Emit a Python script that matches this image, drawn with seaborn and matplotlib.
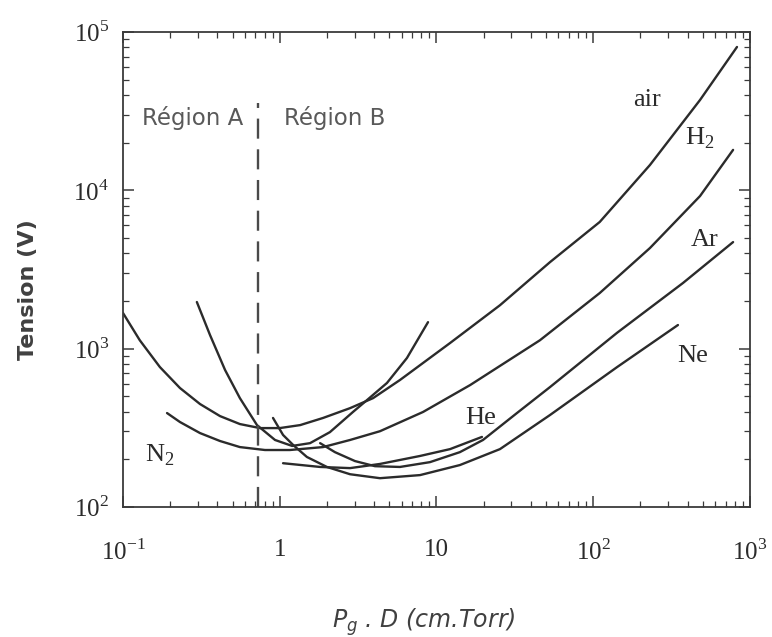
import matplotlib
matplotlib.use("Agg")
import matplotlib.pyplot as plt
import matplotlib.ticker as mticker
import seaborn as sns
import pandas as pd

# Paschen curves: pd in cm.Torr, breakdown voltage in V
air_pd = [0.1, 0.128, 0.172, 0.231, 0.310, 0.416, 0.557, 0.748, 1.00, 1.35, 1.89,
          2.81, 3.94, 5.85, 12.2, 25.4, 53.0, 110, 230, 480, 826]
air_v = [1680, 1130, 765, 564, 447, 375, 334, 315, 315, 329, 365,
         421, 487, 634, 1085, 1880, 3520, 6310, 14450, 37200, 80400]

h2_pd = [0.191, 0.231, 0.310, 0.416, 0.557, 0.805, 1.16, 1.89, 2.81, 4.36, 8.20,
         16.4, 45.7, 110, 230, 480, 780]
h2_v = [392, 344, 293, 261, 239, 229, 229, 239, 265, 301, 398,
        589, 1130, 2245, 4320, 9200, 18000]

n2_pd = [0.296, 0.359, 0.448, 0.557, 0.716, 0.933, 1.20, 1.56, 2.09, 2.93, 3.60,
         4.83, 6.48, 8.83]
n2_v = [1970, 1220, 733, 487, 329, 265, 243, 253, 297, 398, 473,
        607, 873, 1470]

ne_pd = [0.906, 1.05, 1.22, 1.49, 2.00, 2.81, 4.36, 7.85, 14.1, 25.4, 53.0, 142, 347]
ne_v = [365, 285, 246, 207, 179, 161, 152, 159, 184, 232, 381, 765, 1410]

ar_pd = [1.81, 2.25, 3.02, 4.05, 5.85, 9.09, 14.1, 19.8, 32.6, 53.0, 142, 374, 780]
ar_v = [253, 222, 195, 181, 179, 192, 222, 265, 392, 572, 1260, 2600, 4710]

he_pd = [1.05, 1.81, 2.81, 4.36, 7.85, 12.2, 19.5]
he_v = [189, 179, 176, 187, 210, 232, 277]

# curve labels
label_text = ["air", "H$_2$", "Ar", "Ne", "He", "N$_2$"]
label_pd = [220, 480, 516, 433, 19.0, 0.172]
label_v = [37200, 21400, 4850, 897, 365, 213]

boundary_pd = 0.726
boundary_v = [100, 35600]

xtick_vals = [0.1, 1, 10, 100, 1000]
xtick_labels = ["$10^{-1}$", "1", "10", "$10^{2}$", "$10^{3}$"]
ytick_vals = [100, 1000, 10000, 100000]
ytick_labels = ["$10^{2}$", "$10^{3}$", "$10^{4}$", "$10^{5}$"]

curves = {"air": (air_pd, air_v), "h2": (h2_pd, h2_v), "n2": (n2_pd, n2_v),
          "ne": (ne_pd, ne_v), "ar": (ar_pd, ar_v), "he": (he_pd, he_v)}
df = pd.concat([pd.DataFrame({"gas": g, "pd": x, "v": y}) for g, (x, y) in curves.items()],
               ignore_index=True)

sns.set_style("ticks")
plt.rcParams["font.family"] = ["DejaVu Sans"]
plt.rcParams["mathtext.fontset"] = "custom"
plt.rcParams["mathtext.rm"] = "Liberation Serif"
plt.rcParams["mathtext.it"] = "DejaVu Sans:italic"

ink = "#2b2b2b"
fig = plt.figure(figsize=(7.72, 6.37), dpi=100)
ax = fig.add_axes([0.1593, 0.2041, 0.8122, 0.7457])
ax.set_xscale("log")
ax.set_yscale("log")

sns.lineplot(data=df, x="pd", y="v", units="gas", estimator=None, sort=False,
             color=ink, linewidth=1.7, ax=ax)
for ln in ax.get_lines():
    ln.set_solid_joinstyle("round")

ax.plot([boundary_pd, boundary_pd], boundary_v, color="#4a4a4a", linewidth=1.7,
        dashes=(8.5, 4.5))

for t, x, y in zip(label_text, label_pd, label_v):
    ax.text(x, y, t, ha="center", va="center", fontsize=19,
            family="Liberation Serif", color=ink)

ax.text(0.280, 28600, "Région A", ha="center", va="center", fontsize=16.5, color="#595959")
ax.text(2.25, 28600, "Région B", ha="center", va="center", fontsize=16.5, color="#595959")

ax.set_xlim(0.1, 1000)
ax.set_ylim(100, 100000)
ax.set_xticks(xtick_vals)
ax.set_xticklabels(xtick_labels, family="Liberation Serif", fontsize=18, color=ink)
ax.set_yticks(ytick_vals)
ax.set_yticklabels(ytick_labels, family="Liberation Serif", fontsize=18, color=ink)
ax.xaxis.set_minor_locator(mticker.LogLocator(base=10, subs=range(2, 10), numticks=20))
ax.yaxis.set_minor_locator(mticker.LogLocator(base=10, subs=range(2, 10), numticks=20))
ax.xaxis.set_minor_formatter(mticker.NullFormatter())
ax.yaxis.set_minor_formatter(mticker.NullFormatter())

for s in ax.spines.values():
    s.set_color("#3a3a3a")
    s.set_linewidth(1.3)
ax.tick_params(which="both", direction="in", top=True, right=True, color="#3a3a3a")
ax.tick_params(which="major", length=8, width=1.1)
ax.tick_params(which="minor", length=4, width=0.9)
ax.tick_params(axis="x", which="major", pad=23)
ax.tick_params(axis="y", which="major", pad=10)

ax.set_xlabel(r"$P_g$ . D (cm.Torr)", fontsize=17, style="italic", color="#404040")
ax.xaxis.set_label_coords(0.48, -0.21)
ax.set_ylabel("Tension (V)", fontsize=16, fontweight="bold", color="#404040")
ax.yaxis.set_label_coords(-0.135, 0.457)

fig.savefig("out.png", dpi=100)
